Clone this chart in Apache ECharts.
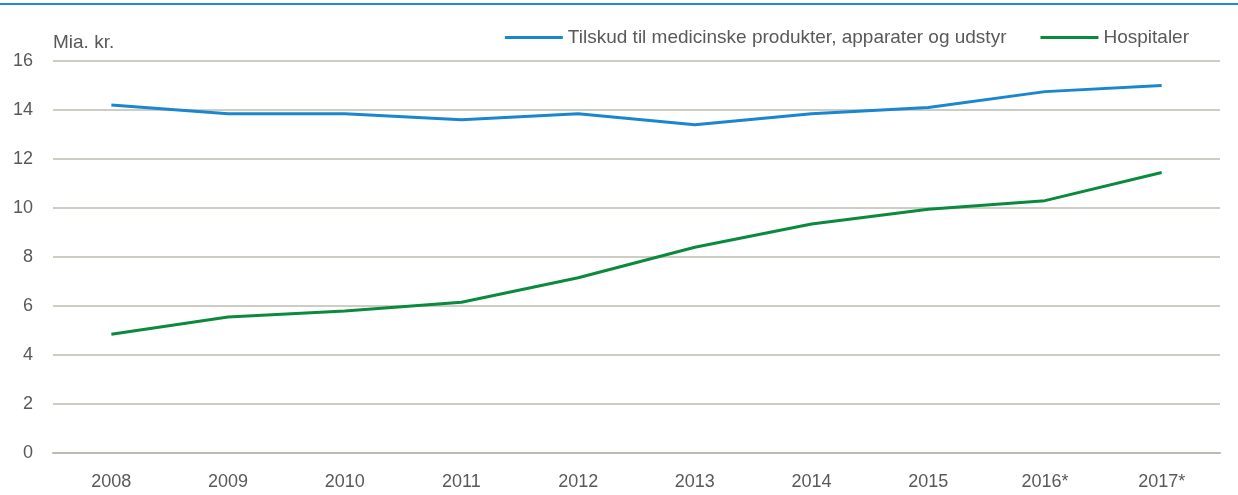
<!DOCTYPE html>
<html>
<head>
<meta charset="utf-8">
<script src="https://cdn.jsdelivr.net/npm/echarts@6/dist/echarts.min.js"></script>
<style>
  html, body { margin: 0; padding: 0; background: #fff; }
  #chart { width: 1238px; height: 495px; }
</style>
</head>
<body>
<div id="chart"></div>
<script>
// data
var years = ["2008", "2009", "2010", "2011", "2012", "2013", "2014", "2015", "2016*", "2017*"];
var tilskud = [14.2, 13.85, 13.85, 13.6, 13.85, 13.4, 13.85, 14.1, 14.75, 15.0];
var hospitaler = [4.85, 5.55, 5.8, 6.15, 7.15, 8.4, 9.35, 9.95, 10.3, 11.45];

var chart = echarts.init(document.getElementById("chart"));
var textColor = "#595959";
var font = "Liberation Sans, Arial, sans-serif";

var option = {
  animation: false,
  grid: { left: 53, right: 18, top: 61, bottom: 42 },
  graphic: [
    {
      type: "rect",
      shape: { x: 0, y: 3, width: 1238, height: 2 },
      style: { fill: "#1f8ad6" }
    }
  ],
  legend: {
    right: 44,
    top: 23,
    itemWidth: 58,
    itemHeight: 3,
    itemGap: 34,
    icon: "rect",
    textStyle: { color: textColor, fontSize: 19, fontFamily: font, padding: [0, 0, 0, 0] },
    data: ["Tilskud til medicinske produkter, apparater og udstyr", "Hospitaler"]
  },
  xAxis: {
    type: "category",
    data: years,
    boundaryGap: true,
    axisTick: { show: false },
    axisLine: { show: true, lineStyle: { color: "#bdbcb0", width: 2 } },
    axisLabel: { color: textColor, fontSize: 18, fontFamily: font, margin: 20 }
  },
  yAxis: {
    type: "value",
    min: 0,
    max: 16,
    interval: 2,
    name: "Mia. kr.",
    nameLocation: "end",
    nameGap: 9,
    nameTextStyle: { color: textColor, fontSize: 19, fontFamily: font, align: "left" },
    axisLine: { show: false },
    axisTick: { show: false },
    axisLabel: { color: textColor, fontSize: 18, fontFamily: font, margin: 20 },
    splitLine: { lineStyle: { color: "#bdbcb0", width: 1.5 } }
  },
  series: [
    {
      name: "Tilskud til medicinske produkter, apparater og udstyr",
      type: "line",
      data: tilskud,
      symbol: "none",
      lineStyle: { color: "#1a86d0", width: 3 },
      itemStyle: { color: "#1a86d0" }
    },
    {
      name: "Hospitaler",
      type: "line",
      data: hospitaler,
      symbol: "none",
      lineStyle: { color: "#0a8a3c", width: 3 },
      itemStyle: { color: "#0a8a3c" }
    }
  ]
};
chart.setOption(option);
</script>
</body>
</html>
